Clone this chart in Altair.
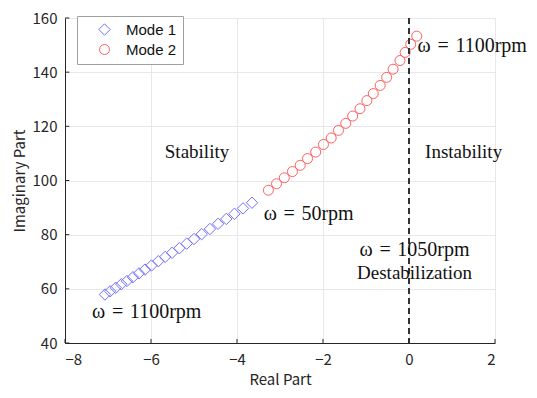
import altair as alt
import pandas as pd

# Mode 1 (blue diamonds): real / imaginary parts
mode1_re = [-7.07, -6.95, -6.82, -6.69, -6.56, -6.42, -6.28, -6.14, -5.99, -5.83, -5.67,
            -5.51, -5.34, -5.17, -5.00, -4.82, -4.63, -4.44, -4.25, -4.06, -3.86, -3.65]
mode1_im = [57.9, 59.1, 60.4, 61.7, 62.9, 64.3, 65.7, 67.1, 68.6, 70.2, 71.8,
            73.3, 75.0, 76.7, 78.4, 80.2, 82.1, 84.0, 85.8, 87.7, 89.7, 91.8]

# Mode 2 (red circles)
mode2_re = [-3.27, -3.08, -2.90, -2.71, -2.53, -2.36, -2.17, -1.99, -1.81, -1.64, -1.47,
            -1.31, -1.14, -0.98, -0.83, -0.67, -0.52, -0.37, -0.21, -0.09, 0.04, 0.18]
mode2_im = [96.4, 98.8, 101.0, 103.3, 105.6, 108.1, 110.5, 113.3, 115.7, 118.5, 121.1,
            123.8, 126.5, 129.5, 132.1, 135.1, 138.1, 141.1, 144.3, 147.3, 150.3, 153.3]

modes = ["Mode 1", "Mode 2"]
mode_colors = ["#7070ff", "#ff6060"]
mode_shapes = ["diamond", "circle"]

x_ticks = [-8, -6, -4, -2, 0, 2]
y_ticks = [40, 60, 80, 100, 120, 140, 160]

# annotations
omega_texts = ["ω\u2004=\u20041100rpm", "ω\u2004=\u200450rpm", "ω\u2004=\u20041100rpm"]
omega_x = [0.2, -3.38, -7.37]
omega_y = [149.8, 87.5, 51.3]
center_texts = ["Stability", "Instability", "Destabilization"]
center_x = [-4.93, 1.27, 0.13]
center_y = [110.7, 110.7, 65.8]
mid_texts = ["ω\u2004=\u20041050rpm"]
mid_x = [0.13]
mid_y = [74.4]

pts = pd.DataFrame({
    "re": mode1_re + mode2_re,
    "im": mode1_im + mode2_im,
    "mode": ["Mode 1"] * len(mode1_re) + ["Mode 2"] * len(mode2_re),
})
lt = pd.DataFrame({"x": omega_x, "y": omega_y, "t": omega_texts})
ct = pd.DataFrame({"x": center_x, "y": center_y, "t": center_texts})
mt = pd.DataFrame({"x": mid_x, "y": mid_y, "t": mid_texts})
xt = pd.DataFrame({"v": x_ticks})
yt = pd.DataFrame({"v": y_ticks})
zero = pd.DataFrame({"v": [0]})

xscale = alt.Scale(domain=[-8, 2], nice=False)
yscale = alt.Scale(domain=[40, 160], nice=False)

axis_common = dict(
    labelFont="Noto Sans CJK JP", labelFontSize=15, labelColor="#262626",
    titleFont="Noto Sans CJK JP", titleFontSize=15, titleColor="#262626", titleFontWeight="normal",
    domainColor="#262626", domainWidth=1, ticks=False,
    gridColor="#e8e8e8", gridWidth=1,
)

points = alt.Chart(pts).mark_point(filled=False, strokeWidth=1, opacity=1).encode(
    x=alt.X("re:Q", scale=xscale,
            axis=alt.Axis(values=x_ticks, title="Real Part", labelPadding=9, titlePadding=5, **axis_common)),
    y=alt.Y("im:Q", scale=yscale,
            axis=alt.Axis(values=y_ticks, title="Imaginary Part", labelPadding=8, titlePadding=5, **axis_common)),
    color=alt.Color("mode:N", scale=alt.Scale(domain=modes, range=mode_colors),
                    legend=alt.Legend(title=None, orient="none", legendX=12, legendY=-2,
                                      fillColor="white", strokeColor="#a0a0a0", padding=6,
                                      labelFont="Liberation Sans", labelFontSize=15, labelColor="#111111",
                                      symbolStrokeWidth=1, rowPadding=4,
                                      symbolOffset=14, labelOffset=14, cornerRadius=0)),
    shape=alt.Shape("mode:N", scale=alt.Scale(domain=modes, range=mode_shapes)),
    size=alt.Size("mode:N", scale=alt.Scale(domain=modes, range=[130, 100]), legend=None),
)

dashed = alt.Chart(zero).mark_rule(color="#333333", strokeWidth=2, strokeDash=[6, 4]).encode(
    x=alt.X("v:Q", scale=xscale)
)

xtick_marks = alt.Chart(xt).mark_rule(color="#262626", strokeWidth=1).encode(
    x=alt.X("v:Q", scale=xscale), y=alt.datum(40), y2=alt.datum(41.5)
)
ytick_marks = alt.Chart(yt).mark_rule(color="#262626", strokeWidth=1).encode(
    y=alt.Y("v:Q", scale=yscale), x=alt.datum(-8), x2=alt.datum(-7.9)
)

ltext = alt.Chart(lt).mark_text(align="left", baseline="middle", font="Liberation Serif",
                                fontSize=20, color="#111111").encode(
    x=alt.X("x:Q", scale=xscale), y=alt.Y("y:Q", scale=yscale), text="t:N"
)
mtext = alt.Chart(mt).mark_text(align="center", baseline="middle", font="Liberation Serif",
                                fontSize=20, color="#111111").encode(
    x=alt.X("x:Q", scale=xscale), y=alt.Y("y:Q", scale=yscale), text="t:N"
)
ctext = alt.Chart(ct).mark_text(align="center", baseline="middle", font="Liberation Serif",
                                fontSize=19, color="#111111").encode(
    x=alt.X("x:Q", scale=xscale), y=alt.Y("y:Q", scale=yscale), text="t:N"
)

chart = alt.layer(points, dashed, xtick_marks, ytick_marks, ltext, mtext, ctext).properties(
    width=430, height=325,
    autosize=alt.AutoSizeParams(type="none"),
    padding={"left": 57, "top": 10, "right": 34, "bottom": 44},
).configure_view(stroke=None)

chart.save("out.html", embed_options={"renderer": "svg", "actions": False})
